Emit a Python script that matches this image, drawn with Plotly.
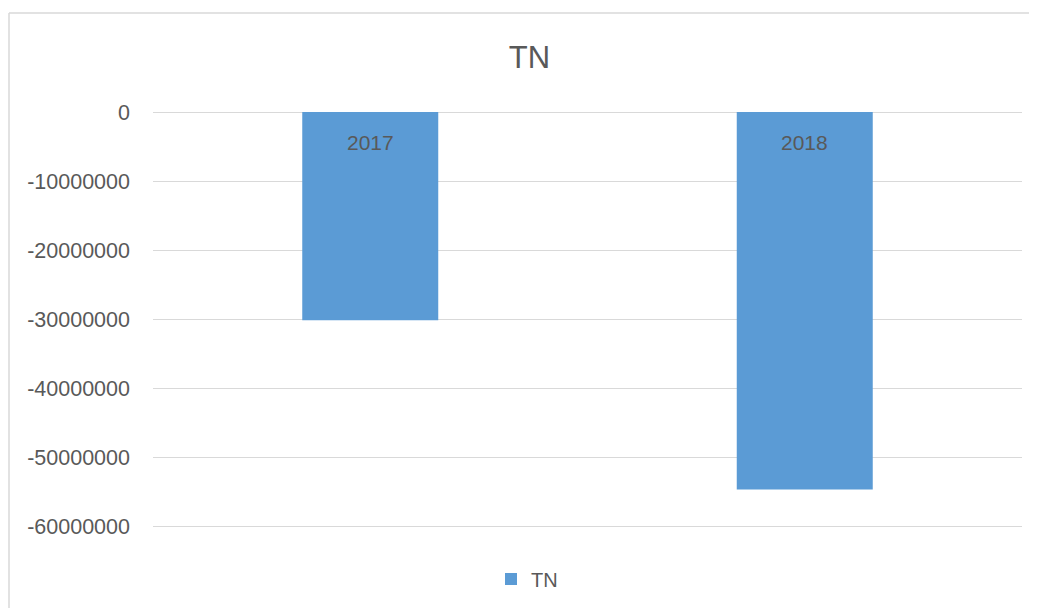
import plotly.graph_objects as go

categories = ["2017", "2018"]
series_name = "TN"
values = [-30100000, -54600000]
tick_vals = [0, -10000000, -20000000, -30000000, -40000000, -50000000, -60000000]
tick_text = ["0", "-10000000", "-20000000", "-30000000", "-40000000", "-50000000", "-60000000"]

FONT = "Liberation Sans"
GRAY = "#595959"
GRID = "#d9d9d9"

# page body has an 8px margin; compensate so absolute positions match
OFF = 8
W, H = 1037 - OFF, 608 - OFF
L, R, T, B = 153 - OFF, 15, 112 - OFF, 78
pw, ph = W - L - R, H - T - B

fig = go.Figure()
fig.add_trace(go.Bar(
    x=categories, y=values, name=series_name,
    marker=dict(color="#5b9bd5", line=dict(width=0)),
    showlegend=True,
))

for i, c in enumerate(categories):
    fig.add_annotation(x=i, y=0, xref="x", yref="y", text=c, showarrow=False,
                       yanchor="middle", yshift=-30,
                       font=dict(family=FONT, size=21, color=GRAY))

# chart border (top and left visible)
bx = (9 - OFF - L) / pw
by = (H - B - (13 - OFF)) / ph
fig.add_shape(type="line", xref="paper", yref="paper",
              x0=bx, x1=1.2, y0=by, y1=by,
              line=dict(color=GRID, width=1.5))
fig.add_shape(type="line", xref="paper", yref="paper",
              x0=bx, x1=bx, y0=by, y1=-0.3,
              line=dict(color=GRID, width=1.5))

fig.update_layout(
    width=W, height=H,
    margin=dict(l=L, r=R, t=T, b=B, autoexpand=False),
    paper_bgcolor="white", plot_bgcolor="white",
    title=dict(text="TN", xref="container", x=(529.5 - OFF) / W, xanchor="center",
               yref="container", y=1 - (57 - OFF) / H, yanchor="middle",
               font=dict(family=FONT, size=31, color=GRAY)),
    bargap=0.687,
    xaxis=dict(type="category", categoryorder="array", categoryarray=categories,
               range=[-0.5, len(categories) - 0.5],
               showticklabels=False, showgrid=False,
               zeroline=False, showline=False, ticks=""),
    yaxis=dict(range=[-60450000, 0], tickvals=tick_vals, ticktext=tick_text,
               showgrid=True, gridcolor=GRID, gridwidth=1.3,
               zeroline=True, zerolinecolor=GRID, zerolinewidth=1.3,
               showline=False, ticks="", ticklabelstandoff=22,
               tickfont=dict(family=FONT, size=21.5, color=GRAY)),
    legend=dict(orientation="h", x=(527 - OFF - L) / pw, xanchor="center",
                y=-(579 - 530) / ph, yanchor="middle",
                font=dict(family=FONT, size=20, color=GRAY)),
)

fig.write_html("out.html")
